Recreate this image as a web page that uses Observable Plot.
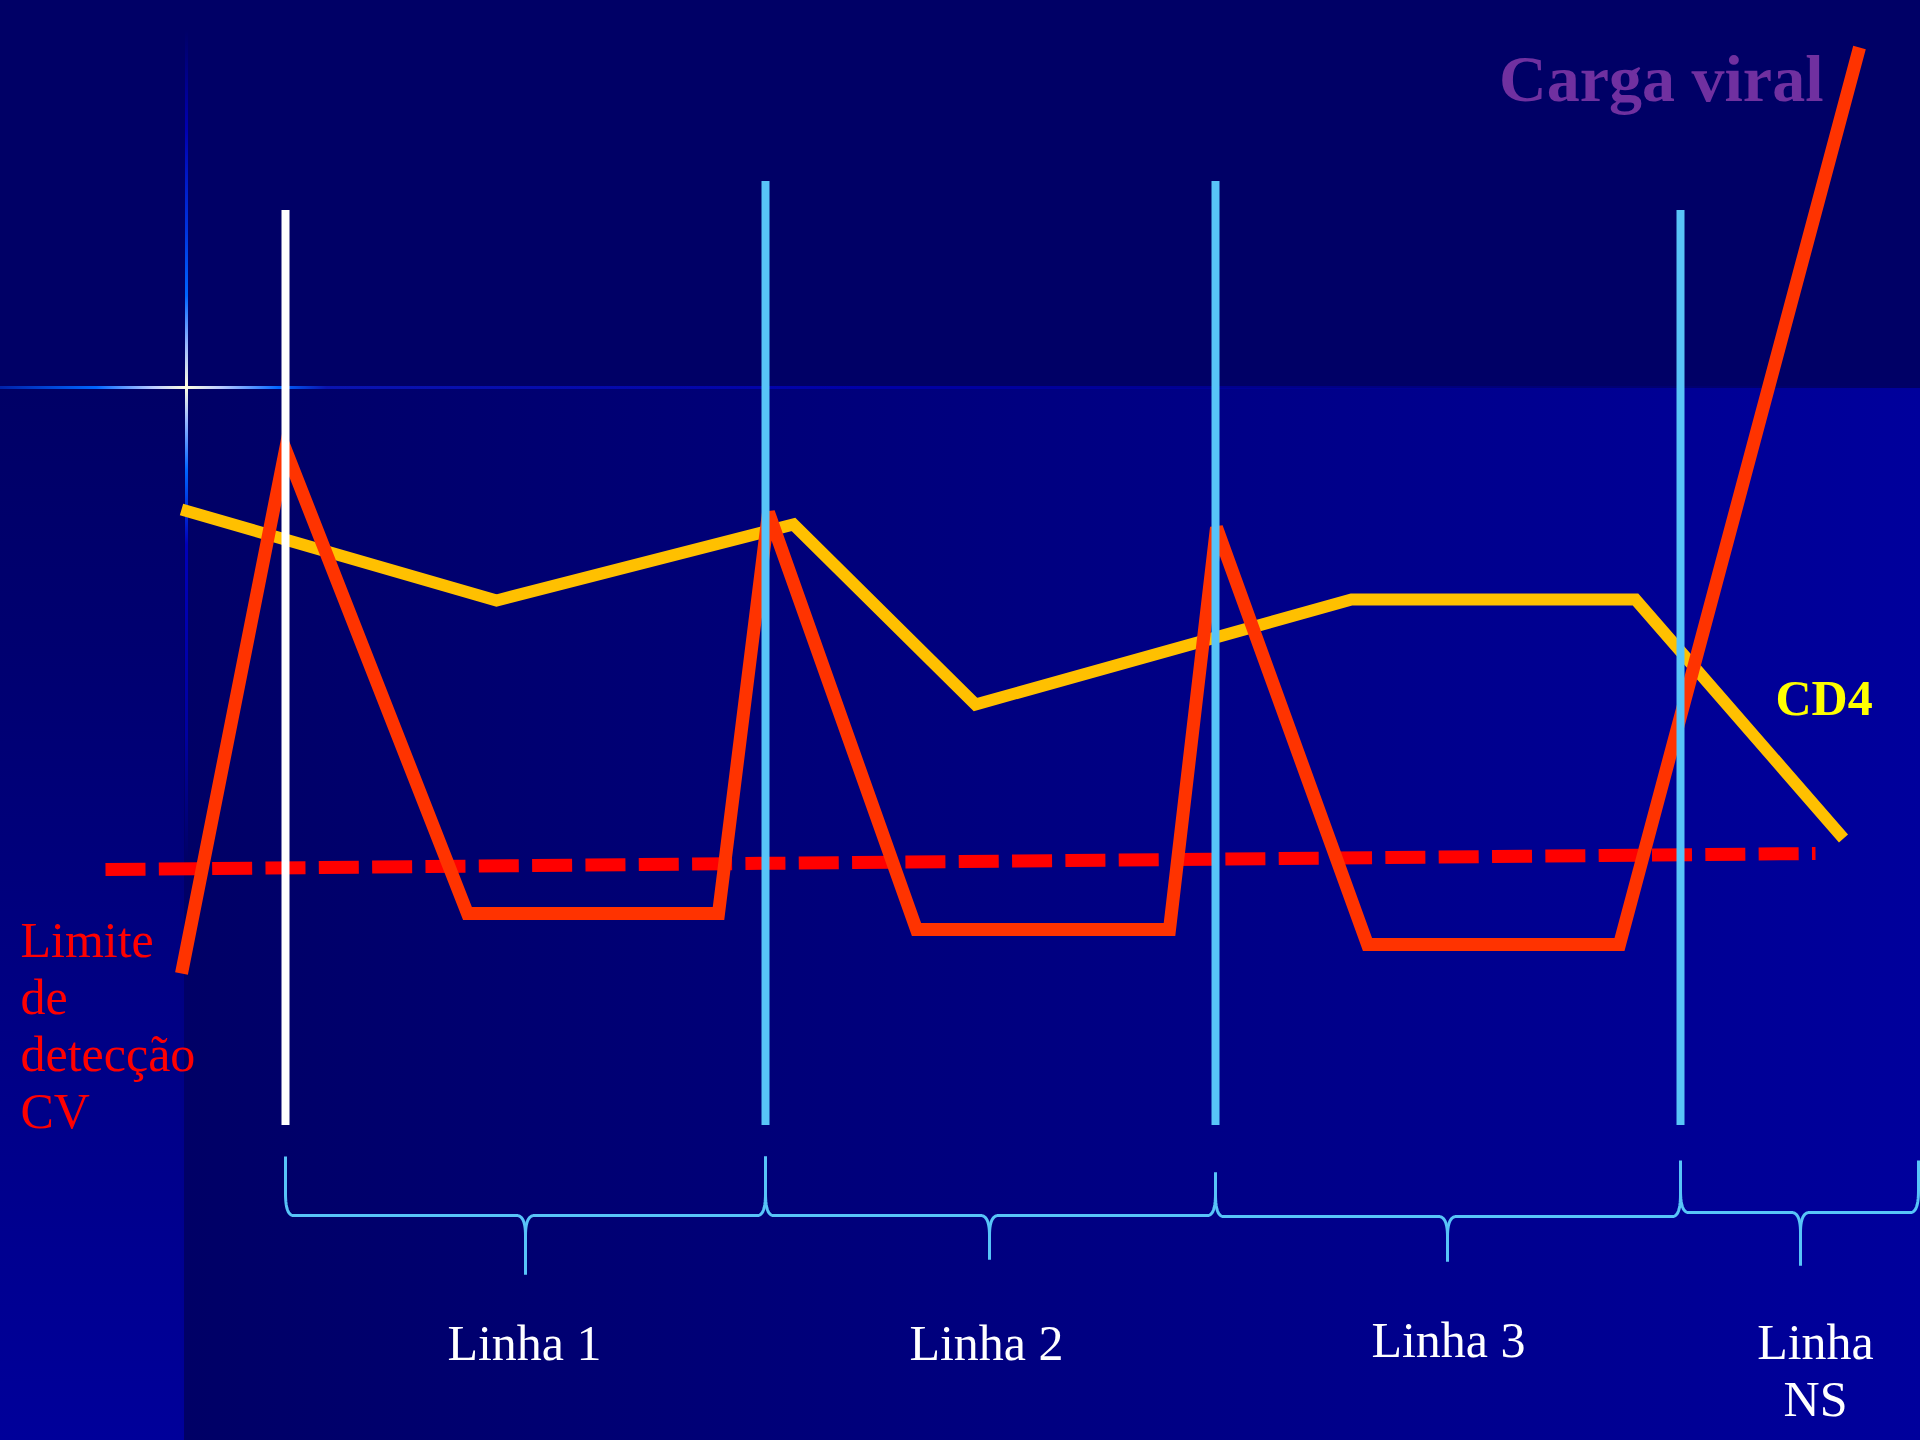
<!DOCTYPE html>
<html>
<head>
<meta charset="utf-8">
<script src="https://cdn.jsdelivr.net/npm/d3@7"></script>
<script src="https://cdn.jsdelivr.net/npm/@observablehq/plot@0.6"></script>
<style>
html, body { margin: 0; padding: 0; background: #000066; }
#slide {
  position: relative; width: 1920px; height: 1440px; overflow: hidden;
  background:
    linear-gradient(#000066, #000066) 0 0 / 1920px 388px no-repeat,
    linear-gradient(to bottom, #000066 0%, #000070 25%, #00009A 100%) 0 388px / 184px 1052px no-repeat,
    linear-gradient(to right, #000066, #00009C) 184px 388px / 1736px 1052px no-repeat;
}
.spark-v {
  position: absolute; left: 184.5px; top: 30px; width: 3.5px; height: 830px;
  background: linear-gradient(to bottom, rgba(0,0,140,0) 0%, #0000B0 12%, #0033DD 24%, #0066FF 32%, #9AB8FF 38%, #FFFFE0 43%, #9AB8FF 47%, #0066FF 53%, #0000B8 62%, #0000A0 85%, rgba(0,0,140,0) 100%);
}
.spark-h {
  position: absolute; left: 0; top: 385.5px; width: 1920px; height: 3.5px;
  background: linear-gradient(to right, #0022AA 0%, #0066FF 5%, #BBCCFF 8%, #FFFFE0 9.7%, #BBCCFF 11.5%, #0066FF 14.5%, #0A14B0 17%, #0000A8 45%, rgba(0,0,160,0.3) 80%, rgba(0,0,160,0) 100%);
}
#chart { position: absolute; left: 0; top: 0; }
#chart svg { background: transparent !important; display: block; }
</style>
</head>
<body>
<div id="slide">
  <div class="spark-v"></div>
  <div class="spark-h"></div>
  <div id="chart"></div>
</div>
<script>
// ---- data (time units on x, level units on y) ----
const cvTime  = [9.05, 14.25, 23.35, 35.9, 38.4, 45.8, 58.45, 60.8, 68.35, 80.95, 92.95];
const cvLevel = [23.35, 49.55, 26.35, 26.35, 46.4, 25.55, 25.55, 45.65, 24.8, 24.8, 69.65];

const cd4Time  = [9.05, 24.8, 39.65, 48.75, 67.55, 81.75, 92.15];
const cd4Level = [46.55, 42.0, 45.8, 36.8, 42.05, 42.05, 30.1];

const limitTime  = [5.25, 90.75];
const limitLevel = [28.55, 29.35];

const switchTime   = [14.25, 38.25, 60.75, 84.0];
const switchTop    = [61.5, 62.95, 62.95, 61.5];
const switchBottom = [15.75, 15.75, 15.75, 15.75];
const switchKind   = ["start", "change", "change", "change"];

const regimenLabel  = ["Linha 1", "Linha 2", "Linha 3", "Linha\nNS"];
const regimenEnd    = [38.25, 60.75, 84.0, 95.9];
const braceTip      = [26.25, 49.45, 72.35, 90.0];
const braceTopStart = [14.2, 14.2, 13.4, 14.0];
const braceTopEnd   = [14.2, 13.4, 13.95, 14.0];
const braceMid      = [11.25, 11.25, 11.2, 11.4];
const braceBottom   = [8.3, 9.05, 8.95, 8.75];
const labelX        = [26.2, 49.3, 72.4, 90.75];
const labelY        = [4.05, 4.05, 4.2, 1.25];

// ---- tables ----
const cv = cvTime.map((t, i) => ({t, v: cvLevel[i]}));
const cd4 = cd4Time.map((t, i) => ({t, v: cd4Level[i]}));
const limit = limitTime.map((t, i) => ({t, v: limitLevel[i]}));
const switches = switchTime.map((t, i) => ({t, top: switchTop[i], bottom: switchBottom[i], kind: switchKind[i]}));
const labels = regimenLabel.map((text, i) => ({text, x: labelX[i], y: labelY[i]}));

// brace shapes built from the regimen spans
function quad(p0, c, p1, n = 14) {
  const pts = [];
  for (let k = 1; k <= n; k++) {
    const t = k / n, u = 1 - t;
    pts.push([u*u*p0[0] + 2*u*t*c[0] + t*t*p1[0], u*u*p0[1] + 2*u*t*c[1] + t*t*p1[1]]);
  }
  return pts;
}
const endRx = 0.4, endRy = 1.1, tipRx = 0.45, tipRy = 1.0;
const braces = regimenLabel.flatMap((_, i) => {
  const x0 = switchTime[i], x1 = regimenEnd[i], xt = braceTip[i], ym = braceMid[i];
  const left = [[x0, braceTopStart[i]], [x0, ym + endRy],
    ...quad([x0, ym + endRy], [x0, ym], [x0 + endRx, ym]),
    [xt - tipRx, ym],
    ...quad([xt - tipRx, ym], [xt, ym], [xt, ym - tipRy]),
    [xt, braceBottom[i]]];
  const right = [[x1, braceTopEnd[i]], [x1, ym + endRy],
    ...quad([x1, ym + endRy], [x1, ym], [x1 - endRx, ym]),
    [xt + tipRx, ym],
    ...quad([xt + tipRx, ym], [xt, ym], [xt, ym - tipRy]),
    [xt, braceBottom[i]]];
  return [...left.map(([x, y]) => ({x, y, id: i + "L"})), ...right.map(([x, y]) => ({x, y, id: i + "R"}))];
});

const serif = "'Palatino Linotype', 'Book Antiqua', Palatino, 'Liberation Serif', serif";
const braceColor = "#58C4F8";

const plot = Plot.plot({
  width: 1920,
  height: 1440,
  margin: 0,
  x: {domain: [0, 96], axis: null},
  y: {domain: [0, 72], axis: null},
  style: {background: "transparent"},
  marks: [
    Plot.line(limit, {x: "t", y: "v", stroke: "#FF0000", strokeWidth: 13, strokeDasharray: "40,13.33", strokeLinecap: "butt", strokeLinejoin: "miter"}),
    Plot.line(cd4, {x: "t", y: "v", stroke: "#FFC000", strokeWidth: 12, strokeLinecap: "butt", strokeLinejoin: "miter", strokeMiterlimit: 4}),
    Plot.line(cv, {x: "t", y: "v", stroke: "#FF3300", strokeWidth: 13, strokeLinecap: "butt", strokeLinejoin: "miter", strokeMiterlimit: 4}),
    Plot.ruleX(switches.filter(d => d.kind === "start"), {x: "t", y1: "bottom", y2: "top", stroke: "#FFFFFF", strokeWidth: 8}),
    Plot.ruleX(switches.filter(d => d.kind !== "start"), {x: "t", y1: "bottom", y2: "top", stroke: braceColor, strokeWidth: 8}),
    Plot.line(braces, {x: "x", y: "y", z: "id", stroke: braceColor, strokeWidth: 3, strokeLinecap: "butt", strokeLinejoin: "round"}),
    Plot.text(labels, {x: "x", y: "y", text: "text", fill: "#FFFFFF", fontSize: 50, fontFamily: serif, textAnchor: "middle", lineAnchor: "bottom", lineHeight: 1.14}),
    Plot.text(["Carga viral"], {x: 91.15, y: 67, text: d => d, fill: "#7030A0", fontSize: 66, fontWeight: "bold", fontFamily: serif, textAnchor: "end", lineAnchor: "bottom"}),
    Plot.text(["CD4"], {x: 88.75, y: 36.3, text: d => d, fill: "#FFFF00", fontSize: 50, fontWeight: "bold", fontFamily: serif, textAnchor: "start", lineAnchor: "bottom"}),
    Plot.text(["Limite\nde\ndetecção\nCV"], {x: 1.0, y: 15.65, text: d => d, fill: "#FF0000", fontSize: 50, fontFamily: serif, textAnchor: "start", lineAnchor: "bottom", lineHeight: 1.14})
  ]
});
document.getElementById("chart").appendChild(plot);
</script>
</body>
</html>
